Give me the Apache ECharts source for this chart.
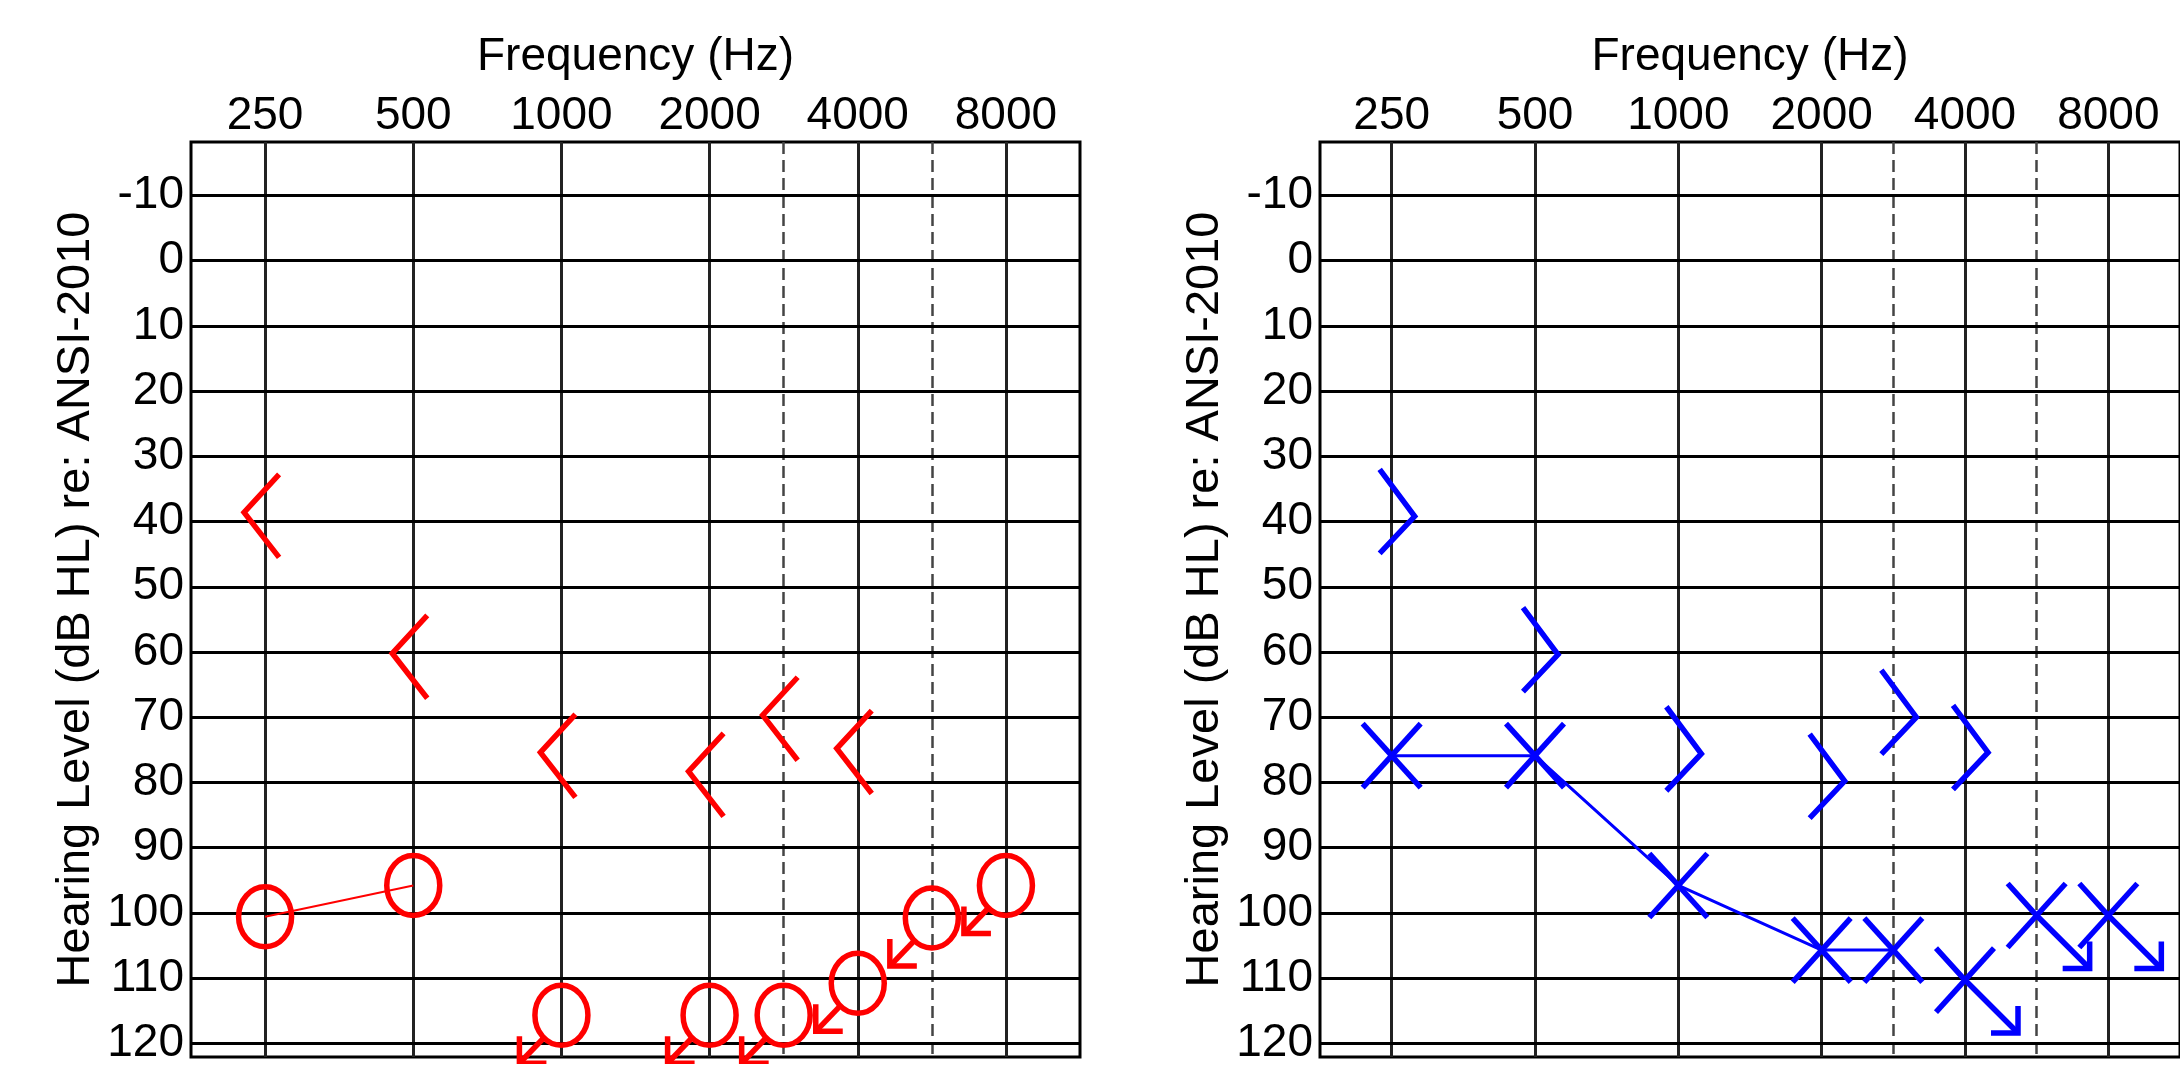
<!DOCTYPE html>
<html>
<head>
<meta charset="utf-8">
<script src="https://cdn.jsdelivr.net/npm/echarts@6/dist/echarts.min.js"></script>
<style>
  html, body { margin: 0; padding: 0; background: #fff; }
  #chart { width: 2180px; height: 1083px; }
</style>
</head>
<body>
<div id="chart"></div>
<script>
// ---------- data ----------
const freqs      = [250, 500, 1000, 2000, 3000, 4000, 6000, 8000];
const freqSlots  = [0, 1, 2, 3, 3.5, 4, 4.5, 5];          // audiogram octave positions
const octaveTicks = [0, 1, 2, 3, 4, 5];
const tickLabels  = ['250', '500', '1000', '2000', '4000', '8000'];
const interOctaveTicks = [3.5, 4.5];
const dbTicks = [-10, 0, 10, 20, 30, 40, 50, 60, 70, 80, 90, 100, 110, 120];

// right ear (red): air conduction "O", bone conduction "<"
const rightAir       = [100.6, 95.8, 115.7, 115.7, 115.7, 110.8, 100.8, 95.8];
const rightAirNoResp = [0, 0, 1, 1, 1, 1, 1, 1];
const rightBone      = [38.6, 60.2, 75.4, 78.3, 69.7, 74.8, null, null];

// left ear (blue): air conduction "X", bone conduction ">"
const leftAir        = [75.9, 75.9, 95.8, 105.7, 105.7, 110.3, 100.4, 100.4];
const leftAirNoResp  = [0, 0, 0, 0, 0, 1, 1, 1];
const leftBone       = [39.2, 60.4, 75.6, 79.8, 70.0, 75.4, null, null];

const xTitle = 'Frequency (Hz)';
const yTitle = 'Hearing Level (dB HL) re: ANSI-2010';

// ---------- styling ----------
const RED = '#ff0000', BLUE = '#0000ff';
const FONT = 'Liberation Sans, Arial, sans-serif';
const SW = 5.5;

function airPoints(vals, nr) {
  return freqSlots.map((s, i) => [s, vals[i], nr[i]]);
}
function bonePoints(vals) {
  return freqSlots.map((s, i) => [s, vals[i]]).filter(d => d[1] != null);
}
function linkPoints(vals, nr) {
  return freqSlots.map((s, i) => [s, vals[i], nr[i]]).filter(d => !d[2]).map(d => [d[0], d[1]]);
}

function boneRender(color, side) {
  return function (params, api) {
    const p = api.coord([api.value(0), api.value(1)]);
    let pts;
    if (side < 0) {
      const vx = p[0] - 21;
      pts = [[vx + 35, p[1] - 38], [vx, p[1]], [vx + 35, p[1] + 45]];
    } else {
      const vx = p[0] + 23;
      pts = [[vx - 35, p[1] - 47], [vx, p[1]], [vx - 35, p[1] + 37]];
    }
    return { type: 'polyline', shape: { points: pts },
      style: { stroke: color, lineWidth: SW, fill: 'none' } };
  };
}

function circleRender(params, api) {
  const p = api.coord([api.value(0), api.value(1)]);
  const nr = api.value(2);
  const st = { stroke: RED, lineWidth: SW, fill: 'none' };
  const ch = [{ type: 'ellipse', shape: { cx: p[0], cy: p[1], rx: 26.5, ry: 30 }, style: st }];
  if (nr) {
    const tx = p[0] - 42, ty = p[1] + 48;
    ch.push({ type: 'line', shape: { x1: p[0] - 17, y1: p[1] + 22, x2: tx, y2: ty }, style: st });
    ch.push({ type: 'polyline', shape: { points: [[tx, ty - 27], [tx, ty], [tx + 27, ty]] }, style: st });
  }
  return { type: 'group', children: ch };
}

function crossRender(params, api) {
  const p = api.coord([api.value(0), api.value(1)]);
  const nr = api.value(2);
  const hx = 29, hy = 32;
  const st = { stroke: BLUE, lineWidth: SW, fill: 'none' };
  const ch = [{ type: 'line', shape: { x1: p[0] + hx, y1: p[1] - hy, x2: p[0] - hx, y2: p[1] + hy }, style: st }];
  if (nr) {
    const tx = p[0] + 53, ty = p[1] + 53;
    ch.push({ type: 'polyline', shape: { points: [[p[0] - hx, p[1] - hy], [p[0], p[1]], [tx, ty]] }, style: st });
    ch.push({ type: 'polyline', shape: { points: [[tx, ty - 27], [tx, ty], [tx - 27, ty]] }, style: st });
  } else {
    ch.push({ type: 'line', shape: { x1: p[0] - hx, y1: p[1] - hy, x2: p[0] + hx, y2: p[1] + hy }, style: st });
  }
  return { type: 'group', children: ch };
}

function gridMarkLines() {
  const data = [];
  octaveTicks.forEach(v => data.push({ xAxis: v, lineStyle: { color: '#222', width: 3, type: 'solid' } }));
  interOctaveTicks.forEach(v => data.push({ xAxis: v, lineStyle: { color: '#444', width: 2.5, type: [12, 6] } }));
  dbTicks.forEach(v => data.push({ yAxis: v, lineStyle: { color: '#000', width: 3, type: 'solid' } }));
  return { silent: true, symbol: ['none', 'none'], label: { show: false }, z: 2, animation: false, data };
}

function xAxisDef(idx) {
  return {
    type: 'value', gridIndex: idx, position: 'top', min: -0.5, max: 5.5,
    axisLine: { show: false }, axisTick: { show: false }, splitLine: { show: false },
    axisLabel: { customValues: octaveTicks, formatter: v => tickLabels[octaveTicks.indexOf(v)] || '',
      fontSize: 46, fontFamily: FONT, color: '#000', margin: 3 },
    name: xTitle, nameLocation: 'middle', nameGap: 62,
    nameTextStyle: { fontSize: 46, fontFamily: FONT, color: '#000' }
  };
}
function yAxisDef(idx) {
  return {
    type: 'value', gridIndex: idx, inverse: true, min: -18.2, max: 122.1,
    axisLine: { show: false }, splitLine: { show: false },
    axisTick: { show: true, length: 5, customValues: dbTicks, lineStyle: { color: '#000', width: 2 } },
    axisLabel: { customValues: dbTicks, fontSize: 46, fontFamily: FONT, color: '#000', margin: 7 },
    name: yTitle, nameLocation: 'middle', nameRotate: 90, nameGap: 91,
    nameTextStyle: { fontSize: 47, fontFamily: FONT, color: '#000' }
  };
}

const chart = echarts.init(document.getElementById('chart'), null, { renderer: 'canvas' });
chart.setOption({
  animation: false,
  backgroundColor: '#fff',
  grid: [
    { left: 191, top: 142, width: 889, height: 915, show: true, borderColor: '#000', borderWidth: 3, backgroundColor: '#fff' },
    { left: 1320, top: 142, width: 886, height: 915, show: true, borderColor: '#000', borderWidth: 3, backgroundColor: '#fff' }
  ],
  xAxis: [xAxisDef(0), xAxisDef(1)],
  yAxis: [yAxisDef(0), yAxisDef(1)],
  series: [
    { type: 'line', name: 'right link', xAxisIndex: 0, yAxisIndex: 0, z: 8, symbol: 'none',
      data: linkPoints(rightAir, rightAirNoResp), lineStyle: { color: RED, width: 2 }, markLine: gridMarkLines() },
    { type: 'custom', name: 'right bone', xAxisIndex: 0, yAxisIndex: 0, z: 10, renderItem: boneRender(RED, -1),
      data: bonePoints(rightBone) },
    { type: 'custom', name: 'right air', xAxisIndex: 0, yAxisIndex: 0, z: 10, renderItem: circleRender,
      data: airPoints(rightAir, rightAirNoResp) },

    { type: 'line', name: 'left link', xAxisIndex: 1, yAxisIndex: 1, z: 8, symbol: 'none',
      data: linkPoints(leftAir, leftAirNoResp), lineStyle: { color: BLUE, width: 3 }, markLine: gridMarkLines() },
    { type: 'custom', name: 'left bone', xAxisIndex: 1, yAxisIndex: 1, z: 10, renderItem: boneRender(BLUE, 1),
      data: bonePoints(leftBone) },
    { type: 'custom', name: 'left air', xAxisIndex: 1, yAxisIndex: 1, z: 10, renderItem: crossRender,
      data: airPoints(leftAir, leftAirNoResp) }
  ],
  graphic: [
    { type: 'rect', z: 100, silent: true, shape: { x: 0, y: 1064, width: 2180, height: 19 }, style: { fill: '#fff' } }
  ]
});
</script>
</body>
</html>
